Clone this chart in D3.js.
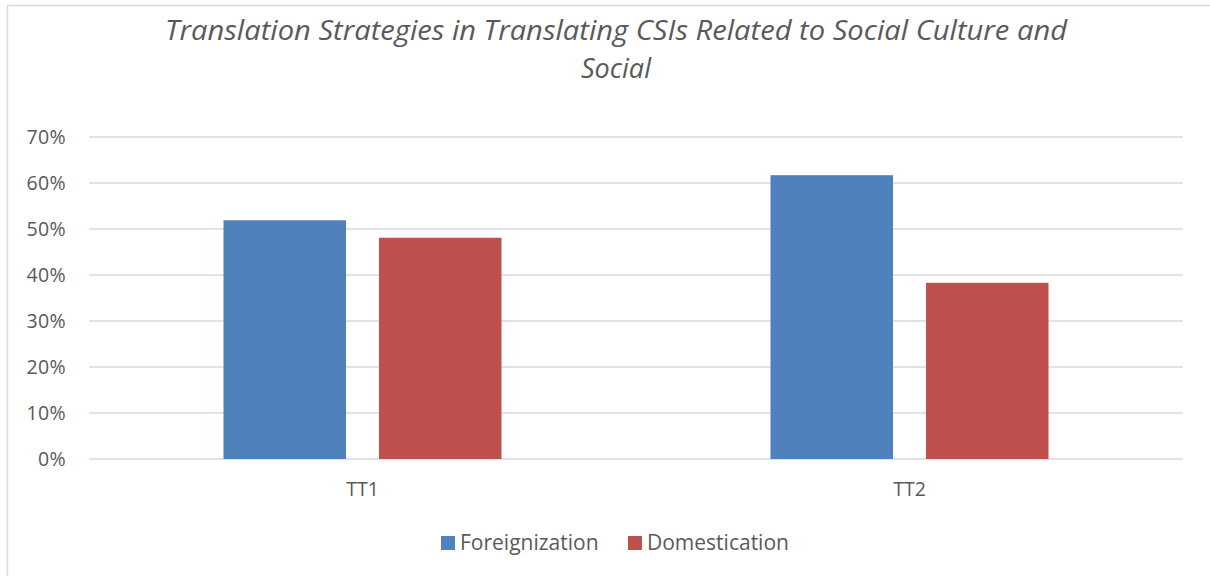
<!DOCTYPE html>
<html>
<head>
<meta charset="utf-8">
<script src="https://cdn.jsdelivr.net/npm/d3@7"></script>
<style>
  body { margin: 0; background: #fff; }
  svg { display: block; }
</style>
</head>
<body>
<div id="chart"></div>
<script>
// chart data
var categories = ["TT1", "TT2"];
var seriesNames = ["Foreignization", "Domestication"];
var foreignization = [0.519, 0.617];
var domestication = [0.481, 0.383];
var yTicks = [0, 0.1, 0.2, 0.3, 0.4, 0.5, 0.6, 0.7];
var titleLines = ["Translation Strategies in Translating CSIs Related to Social Culture and", "Social"];

var colors = {Foreignization: "#4f81bd", Domestication: "#c0504d"};
var textColor = "#595959";
var gridColor = "#d9d9d9";

var W = 1210, H = 576;
var margin = {top: 137, right: 27, bottom: 117, left: 89};

var svg = d3.select("#chart").append("svg")
    .attr("width", W)
    .attr("height", H);

// chart frame (left + top edges visible)
svg.append("path")
    .attr("d", "M7.5," + H + "V5.5H" + W)
    .attr("fill", "none")
    .attr("stroke", gridColor)
    .attr("stroke-width", 1.5);

var x = d3.scaleBand()
    .domain(categories)
    .range([margin.left, W - margin.right]);

var xs = d3.scaleBand()
    .domain(seriesNames)
    .range([0, x.bandwidth()])
    .paddingInner(0.212)
    .paddingOuter(0.865);

var y = d3.scaleLinear()
    .domain([0, 0.7])
    .range([H - margin.bottom, margin.top]);

// gridlines
svg.append("g")
    .selectAll("line")
    .data(yTicks)
    .enter().append("line")
    .attr("x1", margin.left)
    .attr("x2", W - margin.right)
    .attr("y1", function(d) { return y(d); })
    .attr("y2", function(d) { return y(d); })
    .attr("stroke", gridColor)
    .attr("stroke-width", 1.5);

// y axis labels
svg.append("g")
    .selectAll("text")
    .data(yTicks)
    .enter().append("text")
    .attr("x", 66)
    .attr("y", function(d) { return y(d); })
    .attr("dy", "0.35em")
    .attr("text-anchor", "end")
    .attr("font-family", "'Open Sans', sans-serif")
    .attr("font-size", 19.5)
    .attr("letter-spacing", 0.4)
    .attr("fill", textColor)
    .text(d3.format(".0%"));

// bars
var rows = categories.map(function(c, i) {
    return {cat: c, values: [
        {name: "Foreignization", value: foreignization[i]},
        {name: "Domestication", value: domestication[i]}
    ]};
});

var groups = svg.append("g")
    .selectAll("g")
    .data(rows)
    .enter().append("g")
    .attr("transform", function(d) { return "translate(" + x(d.cat) + ",0)"; });

groups.selectAll("rect")
    .data(function(d) { return d.values; })
    .enter().append("rect")
    .attr("x", function(d) { return xs(d.name); })
    .attr("width", xs.bandwidth())
    .attr("y", function(d) { return y(d.value); })
    .attr("height", function(d) { return y(0) - y(d.value); })
    .attr("fill", function(d) { return colors[d.name]; });

// x axis labels
svg.append("g")
    .selectAll("text")
    .data(categories)
    .enter().append("text")
    .attr("x", function(d) { return x(d) + x.bandwidth() / 2; })
    .attr("y", 489)
    .attr("dy", "0.35em")
    .attr("text-anchor", "middle")
    .attr("font-family", "'Open Sans', sans-serif")
    .attr("font-size", 19.5)
    .attr("fill", textColor)
    .text(function(d) { return d; });

// title
svg.append("g")
    .selectAll("text")
    .data(titleLines)
    .enter().append("text")
    .attr("x", 616)
    .attr("y", function(d, i) { return 40 + i * 38; })
    .attr("text-anchor", "middle")
    .attr("font-family", "'Open Sans', sans-serif")
    .attr("font-style", "italic")
    .attr("font-size", 27)
    .attr("fill", textColor)
    .attr("textLength", function(d, i) { return i === 0 ? 902 : null; })
    .attr("lengthAdjust", "spacingAndGlyphs")
    .text(function(d) { return d; });

// legend
var legendItems = [
    {name: "Foreignization", x: 441},
    {name: "Domestication", x: 628}
];
var legend = svg.append("g")
    .selectAll("g")
    .data(legendItems)
    .enter().append("g")
    .attr("transform", function(d) { return "translate(" + d.x + ",543)"; });

legend.append("rect")
    .attr("x", 0)
    .attr("y", -7)
    .attr("width", 14)
    .attr("height", 14)
    .attr("fill", function(d) { return colors[d.name]; });

legend.append("text")
    .attr("x", 19)
    .attr("y", 0)
    .attr("dy", "0.35em")
    .attr("font-family", "'Open Sans', sans-serif")
    .attr("font-size", 21)
    .attr("fill", textColor)
    .text(function(d) { return d.name; });
</script>
</body>
</html>
